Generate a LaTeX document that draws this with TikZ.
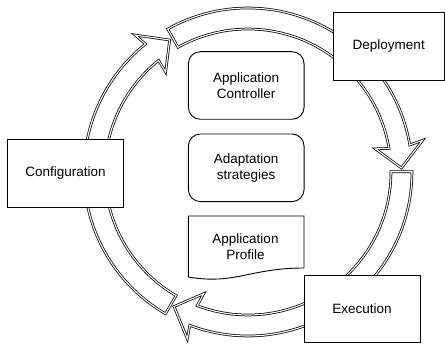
\documentclass[tikz,border=0pt]{standalone}
\usepackage{fontspec}
\setmainfont{Liberation Sans}

% curved arrow of the cycle: start angle, tip angle (clockwise)
\newcommand\flowarrow[2]{%
  \pgfmathsetmacro\hdbase{#2+8}%
  \pgfmathsetmacro\hdbarb{#2+8.8}%
  \draw[ring] (#1:164) arc[start angle=#1, end angle=\hdbase, radius=164]
    -- (\hdbarb:177.5) -- (#2:153.5) -- (\hdbarb:129.5)
    -- (\hdbase:143) arc[start angle=\hdbase, end angle=#1, radius=143] -- cycle;}
% plain curved band of the cycle: from angle, to angle
\newcommand\flowbar[2]{%
  \draw[ring] (#1:164) arc[start angle=#1, end angle=#2, radius=164]
    -- (#2:143) arc[start angle=#2, end angle=#1, radius=143] -- cycle;}

\begin{document}
\begin{tikzpicture}[x=1pt, y=-1pt,
  ring/.style={draw=black, line width=0.75pt, double=white, double distance=1.1pt,
    fill=white, line join=miter},
  phase/.style={draw=black, line width=0.9pt, fill=white, rectangle, inner sep=0pt,
    minimum width=#1, minimum height=67.5pt, align=center,
    font=\fontsize{13.5}{16}\selectfont},
  part/.style={draw=black, line width=0.9pt, rectangle, rounded corners=12pt,
    inner sep=0pt, minimum width=115.7pt, minimum height=67.6pt, align=center,
    font=\fontsize{13.5}{16}\selectfont},
  lbl/.style={align=center, font=\fontsize{13.5}{16}\selectfont}
]
\useasboundingbox (0,0) rectangle (445,345);

% the cycle around the central components (angles counted counter-clockwise)
\begin{scope}[shift={(248,172)}, yscale=-1]
  \flowarrow{175}{120.7}
  \flowbar{119.3}{50}
  \flowarrow{45}{1.5}
  \flowbar{0.1}{-58}
  \flowarrow{298}{241.2}
  \flowbar{239.8}{185}
\end{scope}

% phases
\node[phase=115.6pt] (config) at (65.5,173.3) {Configuration};
\node[phase=111.5pt] (deploy) at (388.75,46.5) {Deployment};
\node[phase=116pt]   (exec)   at (362,308.8) {Execution};

% central components
\node[part] (controller) at (246.2,85.5) {Application\\Controller};
\node[part] (strategies) at (246.2,167.8) {Adaptation\\strategies};

% application profile document
\draw[line width=0.9pt] (188.3,216) -- (304,216) -- (304,268)
  .. controls (250,268) and (235,285) .. (188.3,277) -- cycle;
\node[lbl] (profile) at (245.5,246.2) {Application\\Profile};
\end{tikzpicture}
\end{document}
